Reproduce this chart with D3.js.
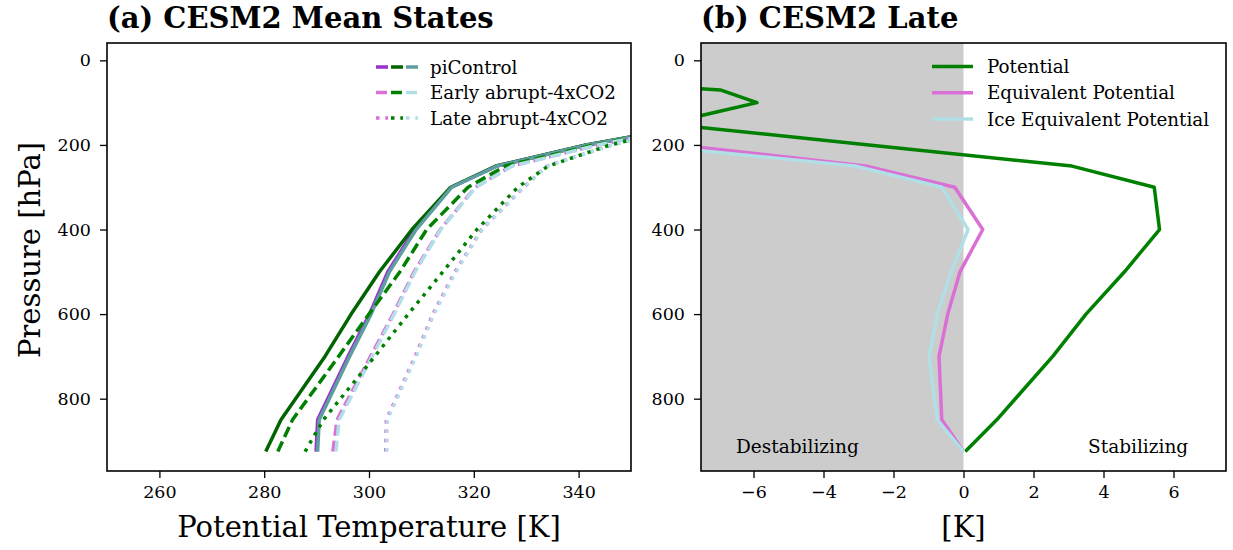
<!DOCTYPE html>
<html>
<head>
<meta charset="utf-8">
<script src="https://d3js.org/d3.v7.min.js"></script>
<style>
  body { margin: 0; background: #fff; }
  text { font-family: "DejaVu Serif", serif; fill: #000; }
</style>
</head>
<body>
<div id="chart"></div>
<script>
// pressure levels (hPa)
var levels = [925, 850, 700, 600, 500, 400, 300, 250, 200, 150];
var levelsLate = [925, 850, 700, 600, 500, 400, 300, 250, 200, 150, 100, 70, 50];

// (a) mean state potential temperatures [K]
var piTheta    = [280.3, 283.2, 291.6, 296.6, 302.0, 308.2, 315.6, 324.2, 341.4, 364];
var piThetaE   = [289.9, 290.2, 296.0, 300.1, 303.6, 308.7, 315.7, 324.3, 341.5, 364];
var piThetaI   = [290.2, 290.5, 296.3, 300.4, 303.9, 309.0, 315.8, 324.4, 341.6, 364];
var earlyTheta  = [282.6, 285.4, 294.2, 300.0, 305.9, 311.0, 318.9, 326.0, 343.0, 364];
var earlyThetaE = [293.1, 293.9, 300.3, 304.6, 308.6, 313.6, 320.3, 327.2, 343.6, 364];
var earlyThetaI = [293.7, 294.3, 300.6, 304.8, 308.8, 313.7, 320.4, 327.3, 343.7, 364];
var lateTheta  = [287.8, 291.3, 301.1, 307.5, 314.1, 320.6, 328.4, 334.2, 346.0, 363];
var lateThetaE = [303.2, 303.3, 308.8, 312.2, 316.4, 321.5, 329.5, 333.9, 346.4, 363];
var lateThetaI = [303.4, 303.5, 309.0, 312.4, 316.6, 321.6, 329.6, 334.0, 346.5, 363];

// (b) late change in each quantity [K]
var dTheta  = [0.05, 0.95, 2.55, 3.5, 4.6, 5.6, 5.45, 3.1, -2.7, -8.5, -5.9, -6.95, -10.5];
var dThetaE = [0, -0.62, -0.7, -0.45, -0.1, 0.55, -0.25, -2.8, -8.15];
var dThetaI = [0, -0.75, -0.98, -0.75, -0.35, 0.13, -0.62, -3.1, -9.2];

var tempTicks = [260, 280, 300, 320, 340];
var diffTicks = [-6, -4, -2, 0, 2, 4, 6];
var presTicks = [0, 200, 400, 600, 800];

var expNames = ['piControl', 'Early abrupt-4xCO2', 'Late abrupt-4xCO2'];
var varNames = ['Potential', 'Equivalent Potential', 'Ice Equivalent Potential'];

// set the dimensions of the figure
var W = 1233, H = 550,
    plotTop = 43, height = 428,
    panelA = {left: 107, width: 524},
    panelB = {left: 701, width: 525};

var svg = d3.select("#chart")
  .append("svg")
    .attr("width", W)
    .attr("height", H);

var y = d3.scaleLinear()
  .domain([-41, 971])
  .range([0, height]);

var xA = d3.scaleLinear().domain([250, 350]).range([0, panelA.width]);
var xB = d3.scaleLinear().domain([-7.5, 7.5]).range([0, panelB.width]);

function makePanel(p, x, xTicks, xLabel, title, id) {
  var g = svg.append("g")
    .attr("transform", "translate(" + p.left + "," + plotTop + ")");

  g.append("clipPath").attr("id", id)
    .append("rect").attr("width", p.width).attr("height", height);

  // axes
  var xAxis = g.append("g")
    .attr("transform", "translate(0," + height + ")")
    .call(d3.axisBottom(x).tickValues(xTicks).tickSize(7).tickPadding(8)
      .tickFormat(function(d) { return d < 0 ? "\u2212" + Math.abs(d) : d; }));
  var yAxis = g.append("g")
    .call(d3.axisLeft(y).tickValues(presTicks).tickSize(7).tickPadding(9));
  [xAxis, yAxis].forEach(function(a) {
    a.select(".domain").remove();
    a.selectAll("line").attr("stroke", "#000").attr("stroke-width", 1.3);
    a.selectAll("text").style("font-size", "17.5px").attr("font-family", "DejaVu Serif");
  });

  g.append("text")
    .style("font-size", "29px")
    .attr("text-anchor", "middle")
    .attr("x", p.width / 2)
    .attr("y", height + 66)
    .text(xLabel);

  g.append("text")
    .style("font-size", "29px")
    .style("font-weight", "bold")
    .attr("x", 0)
    .attr("y", -15)
    .text(title);

  var plot = g.append("g").attr("clip-path", "url(#" + id + ")");
  return {g: g, plot: plot};
}

var a = makePanel(panelA, xA, tempTicks, "Potential Temperature [K]", "(a) CESM2 Mean States", "clipA");
var b = makePanel(panelB, xB, diffTicks, "[K]", "(b) CESM2 Late", "clipB");

// y label
svg.append("text")
  .style("font-size", "29px")
  .attr("text-anchor", "middle")
  .attr("transform", "translate(40," + (plotTop + height / 2 - 7) + ") rotate(-90)")
  .text("Pressure [hPa]");

// shading for destabilizing side
b.plot.append("rect")
  .attr("x", xB(-7.5))
  .attr("y", 0)
  .attr("width", xB(0) - xB(-7.5))
  .attr("height", height)
  .attr("fill", "#cccccc");

function drawLine(plot, x, vals, pres, color, dash) {
  var line = d3.line()
    .x(function(d) { return x(d); })
    .y(function(d, i) { return y(pres[i]); });
  plot.append("path")
    .datum(vals)
    .attr("fill", "none")
    .attr("stroke", color)
    .attr("stroke-width", 3.5)
    .attr("stroke-linejoin", "round")
    .attr("stroke-dasharray", dash)
    .attr("d", line);
}

// panel (a) lines
var solid = null, dashed = "11,5", dotted = "3.5,5.8";
var colsPi = ["#9932CC", "#006400", "#5F9EA0"],
    colsAbr = ["#DA70D6", "#008000", "#B0E0E6"];
drawLine(a.plot, xA, piThetaE, levels, colsPi[0], solid);
drawLine(a.plot, xA, piTheta, levels, colsPi[1], solid);
drawLine(a.plot, xA, piThetaI, levels, colsPi[2], solid);
drawLine(a.plot, xA, earlyThetaE, levels, colsAbr[0], dashed);
drawLine(a.plot, xA, earlyTheta, levels, colsAbr[1], dashed);
drawLine(a.plot, xA, earlyThetaI, levels, colsAbr[2], dashed);
drawLine(a.plot, xA, lateThetaE, levels, colsAbr[0], dotted);
drawLine(a.plot, xA, lateTheta, levels, colsAbr[1], dotted);
drawLine(a.plot, xA, lateThetaI, levels, colsAbr[2], dotted);

// panel (b) lines
drawLine(b.plot, xB, dTheta, levelsLate, "#008000", solid);
drawLine(b.plot, xB, dThetaE, levelsLate, "#DA70D6", solid);
drawLine(b.plot, xB, dThetaI, levelsLate, "#B0E0E6", solid);

b.g.append("text")
  .style("font-size", "18.5px")
  .attr("x", xB(-6.5))
  .attr("y", y(928))
  .text("Destabilizing");
b.g.append("text")
  .style("font-size", "18.5px")
  .attr("text-anchor", "end")
  .attr("x", xB(6.42))
  .attr("y", y(928))
  .text("Stabilizing");

// frames
[a, b].forEach(function(pn, i) {
  pn.g.append("rect")
    .attr("width", i ? panelB.width : panelA.width)
    .attr("height", height)
    .attr("fill", "none")
    .attr("stroke", "#000")
    .attr("stroke-width", 1.6);
});

// legend (a): three handles per experiment
var dashes = [solid, dashed, dotted];
expNames.forEach(function(name, i) {
  var ly = 24 + i * 25.5;
  var cols = i === 0 ? colsPi : colsAbr;
  cols.forEach(function(c, j) {
    a.g.append("line")
      .attr("x1", 269 + j * 15).attr("x2", 281 + j * 15)
      .attr("y1", ly).attr("y2", ly)
      .attr("stroke", c)
      .attr("stroke-width", 3.5)
      .attr("stroke-dasharray", dashes[i]);
  });
  a.g.append("text")
    .style("font-size", "18.3px")
    .attr("x", 323)
    .attr("y", ly + 6.5)
    .text(name);
});

// legend (b)
var legCols = ["#008000", "#DA70D6", "#B0E0E6"];
varNames.forEach(function(name, i) {
  var ly = 23.5 + i * 26.3;
  b.g.append("line")
    .attr("x1", 231).attr("x2", 272)
    .attr("y1", ly).attr("y2", ly)
    .attr("stroke", legCols[i])
    .attr("stroke-width", 3.5);
  b.g.append("text")
    .style("font-size", "18.3px")
    .attr("x", 286)
    .attr("y", ly + 6.5)
    .text(name);
});
</script>
</body>
</html>
